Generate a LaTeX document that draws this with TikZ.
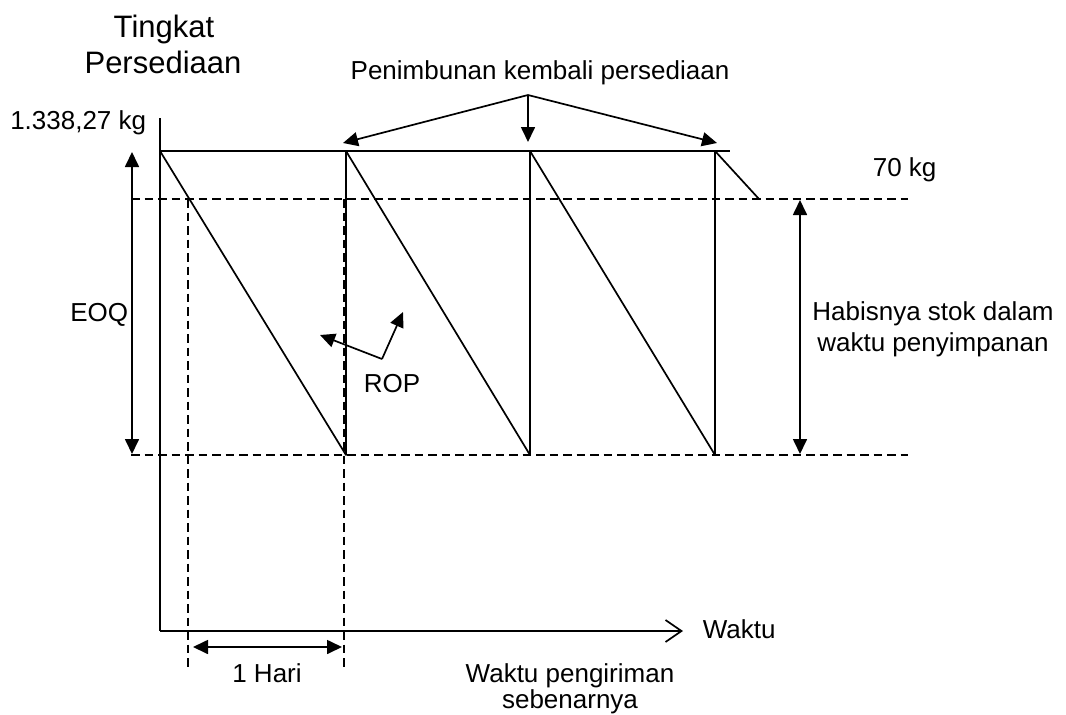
\documentclass[tikz,border=0pt]{standalone}
\usepackage{fontspec}
\setmainfont{Liberation Sans}
\usetikzlibrary{arrows.meta}
\begin{document}
\begin{tikzpicture}[x=1pt, y=-1pt, line width=1.7pt, line join=round,
  lbl/.style={font=\fontsize{26}{30}\selectfont, inner sep=0pt},
  ttl/.style={font=\fontsize{31}{36}\selectfont, inner sep=0pt},
  guide/.style={line width=1.5pt, dash pattern=on 8.5pt off 5pt},
  dim/.style={{Triangle[length=15pt,width=14pt]}-{Triangle[length=15pt,width=14pt]}},
  pointer/.style={-{Triangle[length=15pt,width=14pt]}},
  axis/.style={-{Straight Barb[length=16pt,width=22pt]}}]
\useasboundingbox (0,0) rectangle (1066,715);

% ---- key points ----
\coordinate (O) at (160,631);
\coordinate (ytop) at (160,118);
\coordinate (xend) at (683,631);

\coordinate (t0) at (160,151);
\coordinate (b1) at (346,455);
\coordinate (t1) at (346,151);
\coordinate (b2) at (530,455);
\coordinate (t2) at (530,151);
\coordinate (b3) at (715,455);
\coordinate (t3) at (715,151);
\coordinate (tend) at (730,151);
\coordinate (e) at (759,199);

\coordinate (ropL) at (131,199);
\coordinate (ropR) at (908,199);
\coordinate (zeroL) at (131,455);
\coordinate (zeroR) at (908,455);
\coordinate (d1t) at (188,199);
\coordinate (d1b) at (188,669);
\coordinate (d2t) at (344,199);
\coordinate (d2b) at (344,667);

\coordinate (eoqT) at (132,152);
\coordinate (eoqB) at (132,454);
\coordinate (useT) at (800,200);
\coordinate (useB) at (800,454);
\coordinate (dayL) at (193,647);
\coordinate (dayR) at (342,647);

\coordinate (apex) at (528,95);
\coordinate (refill1) at (343,143);
\coordinate (refill2) at (528,142);
\coordinate (refill3) at (717,143);

\coordinate (ropV) at (382,359);
\coordinate (ropA) at (320,335);
\coordinate (ropB) at (403,312);

% ---- dashed guide lines ----
\draw[guide] (ropL) -- (ropR);
\draw[guide] (zeroL) -- (zeroR);
\draw[guide] (d1t) -- (d1b);
\draw[guide] (d2t) -- (d2b);

% ---- axes ----
\draw (ytop) -- (O);
\draw[axis] (O) -- (xend);

% ---- stock level ----
\draw (t0) -- (tend);
\draw (t0) -- (b1) -- (t1) -- (b2) -- (t2) -- (b3) -- (t3) -- (e);

% ---- dimension arrows ----
\draw[dim] (eoqT) -- (eoqB);
\draw[dim] (useT) -- (useB);
\draw[dim] (dayL) -- (dayR);

% ---- pointers ----
\draw[pointer] (apex) -- (refill1);
\draw[pointer] (apex) -- (refill2);
\draw[pointer] (apex) -- (refill3);
\draw[pointer] (ropV) -- (ropA);
\draw[pointer] (ropV) -- (ropB);

% ---- labels ----
\node[ttl, anchor=base] (ttl1) at (164,37) {Tingkat};
\node[ttl, anchor=base] (ttl2) at (163,73) {Persediaan};
\node[lbl, anchor=base east] (qmax) at (147,129) {1.338,27 kg};
\node[lbl, anchor=base] (refill) at (540,79) {Penimbunan kembali persediaan};
\node[lbl, anchor=base west] (rop) at (872,176) {70 kg};
\node[lbl, anchor=base east] (eoq) at (129,321) {EOQ};
\node[lbl, anchor=base] (ropname) at (392,392) {ROP};
\node[lbl, anchor=base] (use1) at (933,320) {Habisnya stok dalam};
\node[lbl, anchor=base] (use2) at (933,351) {waktu penyimpanan};
\node[lbl, anchor=base west] (time) at (702,638) {Waktu};
\node[lbl, anchor=base] (day) at (267,682) {1 Hari};
\node[lbl, anchor=base] (lead1) at (570,682) {Waktu pengiriman};
\node[lbl, anchor=base] (lead2) at (570,708) {sebenarnya};
\end{tikzpicture}
\end{document}
